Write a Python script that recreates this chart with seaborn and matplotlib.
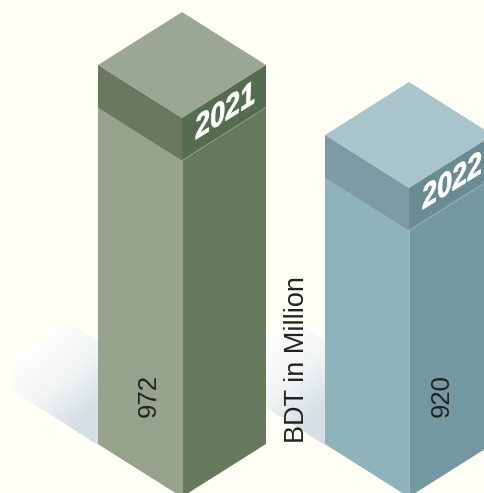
import numpy as np
import pandas as pd
import matplotlib
matplotlib.use("Agg")
import matplotlib.pyplot as plt
import seaborn as sns
from matplotlib.colors import LinearSegmentedColormap
from matplotlib.patches import Polygon
from matplotlib.patheffects import AbstractPathEffect
from matplotlib.transforms import Affine2D

years = ["2021", "2022"]
values = [972, 920]
axis_label = "BDT in Million"
left_colors = ["#96A28C", "#8FB3BD"]
right_colors = ["#66795C", "#7498A1"]
top_colors = ["#9CA695", "#AAC4CB"]
band_left_colors = ["#69785F", "#7E9AA2"]
band_right_colors = ["#566C50", "#6B8B93"]
value_offsets = [-33, 33]
BG = "#FFFFF5"

W, H = 485, 493
SPACING = 227.0
HALF = 84.0 / SPACING
PX_PER_UNIT = 70.0 / 52.0
DY_TOP = 53.0 / PX_PER_UNIT
BAND = 42.5 / PX_PER_UNIT
BASELINE = 690.5

sns.set_theme(style="white", rc={"font.family": ["Liberation Sans", "DejaVu Sans"]})
fig = plt.figure(figsize=(W / 100, H / 100), dpi=100, facecolor=BG)
ax = fig.add_axes([0, 0, 1, 1], facecolor=BG)
df = pd.DataFrame({"year": years, "value": values})
sns.barplot(data=df, x="year", y="value", hue="year", palette=left_colors, legend=False,
            width=2 * HALF, saturation=1, ax=ax, zorder=3)
ax.set_xlim(-182 / SPACING, (W - 182) / SPACING)
ax.set_ylim(972 - (H - 118) / PX_PER_UNIT, 972 + 118 / PX_PER_UNIT)
ax.axis("off")
xlim, ylim = ax.get_xlim(), ax.get_ylim()


class Shear(AbstractPathEffect):
    """Lay the glyph outlines on the isometric right face, around the anchor."""
    def __init__(self, anchor, angle):
        super().__init__()
        self.anchor, self.angle = anchor, angle

    def draw_path(self, renderer, gc, tpath, affine, rgbFace=None):
        x, y = ax.transData.transform(self.anchor)
        extra = (Affine2D().translate(-x, -y).rotate_deg(-self.angle)
                 .scale(0.97, 1.2).skew_deg(-6, 0).skew_deg(0, self.angle)
                 .translate(x, y))
        gc0 = renderer.new_gc()
        gc0.copy_properties(gc)
        gc0.set_foreground("white")
        gc0.set_linewidth(0.5)
        renderer.draw_path(gc0, tpath, affine + extra, rgbFace)
        gc0.restore()


shadow_cmap = LinearSegmentedColormap.from_list("shadow", ["#FFFFFF", "#F3F6F6", "#D6DFE3"])


def shadow(cx):
    """Soft gradient shape on the floor behind a bar."""
    def P(a, y):
        return (cx + a / SPACING, 972 + (118 - y) / PX_PER_UNIT)
    pts = [P(-112, 323), P(-40, 369), P(-40, 473), P(-169, 391), P(-169, 358)]
    poly = Polygon(pts, closed=True, facecolor="none", edgecolor="none")
    ax.add_patch(poly)
    gx, gy = np.meshgrid(np.linspace(0, 1, 64), np.linspace(0, 1, 64))
    im = ax.imshow(0.45 * gx + 0.75 * gy, vmin=0.2, vmax=0.98, cmap=shadow_cmap,
                   extent=(P(-169, 0)[0], P(-84, 0)[0], P(0, 445)[1], P(0, 323)[1]),
                   aspect="auto", zorder=1, interpolation="bilinear")
    im.set_clip_path(poly)


for i, bar in enumerate(list(ax.patches)):
    x0 = bar.get_x()
    w = bar.get_width()
    cx = x0 + w / 2
    x1 = x0 + w
    v = bar.get_height()
    shadow(cx)
    top_c = v
    top_s = v + DY_TOP
    base_c = BASELINE
    base_s = BASELINE + DY_TOP
    left = Polygon([(x0, base_s), (x0, top_s), (cx, top_c), (cx, base_c)], closed=True,
                   facecolor=left_colors[i], edgecolor="none", zorder=3)
    ax.add_patch(left)
    bar.set_clip_path(left)
    ax.add_patch(Polygon([(cx, base_c), (cx, top_c), (x1, top_s), (x1, base_s)], closed=True,
                         facecolor=right_colors[i], edgecolor="none", zorder=3))
    ax.add_patch(Polygon([(x0, top_s), (x0, top_s - BAND), (cx, top_c - BAND), (cx, top_c)],
                         closed=True, facecolor=band_left_colors[i], edgecolor="none", zorder=4))
    ax.add_patch(Polygon([(cx, top_c), (cx, top_c - BAND), (x1, top_s - BAND), (x1, top_s)],
                         closed=True, facecolor=band_right_colors[i], edgecolor="none", zorder=4))
    ax.add_patch(Polygon([(x0, top_s), (cx, top_c), (x1, top_s), (cx, top_s + DY_TOP)],
                         closed=True, facecolor=top_colors[i], edgecolor="none", zorder=4))
    ax.plot([cx, cx], [base_c, top_c - BAND], color="white", alpha=0.3, lw=0.8, zorder=5)
    ax.plot([cx, x1], [top_c - BAND, top_s - BAND], color="white", alpha=0.3, lw=0.8, zorder=5)
    ax.text(cx + value_offsets[i] / SPACING, BASELINE + 101 / PX_PER_UNIT, str(int(v)), rotation=90,
            ha="center", va="center", fontsize=18.5, color="#222222", zorder=6)
    anchor = (cx + 43 / SPACING, v + DY_TOP / 2 - BAND / 2)
    t = ax.text(anchor[0], anchor[1], years[i], rotation=32, rotation_mode="anchor",
                ha="center", va="center", fontsize=20, fontweight="bold", fontstyle="italic",
                color="white", zorder=6)
    t.set_path_effects([Shear(anchor, 32)])

ax.text(115 / SPACING, BASELINE + 137.5 / PX_PER_UNIT, axis_label, rotation=90,
        ha="center", va="center", fontsize=19.5, color="#222222", zorder=6)
ax.set_xlim(xlim)
ax.set_ylim(ylim)
fig.savefig("out.png", dpi=100, facecolor=BG)
